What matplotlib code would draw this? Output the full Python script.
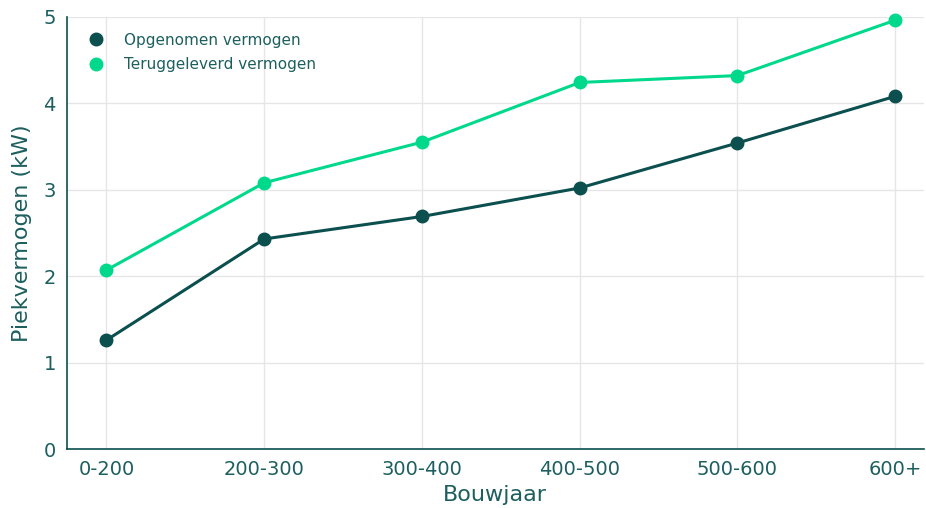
import matplotlib.pyplot as plt

categorieen = ["0-200", "200-300", "300-400", "400-500", "500-600", "600+"]
opgenomen = [1.26, 2.43, 2.69, 3.02, 3.54, 4.08]
teruggeleverd = [2.07, 3.08, 3.55, 4.24, 4.32, 4.96]

donker = "#0b4f4f"
groen = "#00d98b"
tekst = "#1d5f5f"

fig = plt.figure(figsize=(9.26, 5.08), dpi=100)
ax = fig.add_axes([0.0724, 0.116, 0.925, 0.851])

x = list(range(len(categorieen)))
ax.plot(x, opgenomen, color=donker, linewidth=2.2, marker="o", markersize=9,
        label="Opgenomen vermogen", clip_on=False, zorder=3)
ax.plot(x, teruggeleverd, color=groen, linewidth=2.2, marker="o", markersize=9,
        label="Teruggeleverd vermogen", clip_on=False, zorder=3)

ax.set_xlim(-0.25, 5.18)
ax.set_ylim(0, 5)
ax.set_yticks([0, 1, 2, 3, 4, 5])
ax.set_xticks(x)
ax.set_xticklabels(categorieen)
ax.grid(True, color="#e6e6e6", linewidth=1)
ax.set_axisbelow(True)

for s in ["top", "right"]:
    ax.spines[s].set_visible(False)
for s in ["left", "bottom"]:
    ax.spines[s].set_color(donker)
    ax.spines[s].set_linewidth(1.2)

ax.tick_params(axis="both", length=0, labelsize=14, labelcolor=tekst, pad=8)
ax.set_xlabel("Bouwjaar", fontsize=16, color=tekst, labelpad=4)
ax.set_ylabel("Piekvermogen (kW)", fontsize=16, color=tekst, labelpad=8)

leg = ax.legend(loc="upper left", bbox_to_anchor=(0.0268, 0.977), frameon=False,
                fontsize=11, handlelength=0, handletextpad=1.8,
                borderaxespad=0, labelspacing=0.6)
for t in leg.get_texts():
    t.set_color(tekst)
for h in leg.legend_handles:
    h.set_linestyle("")

fig.savefig("out.png", dpi=100, facecolor="white")
